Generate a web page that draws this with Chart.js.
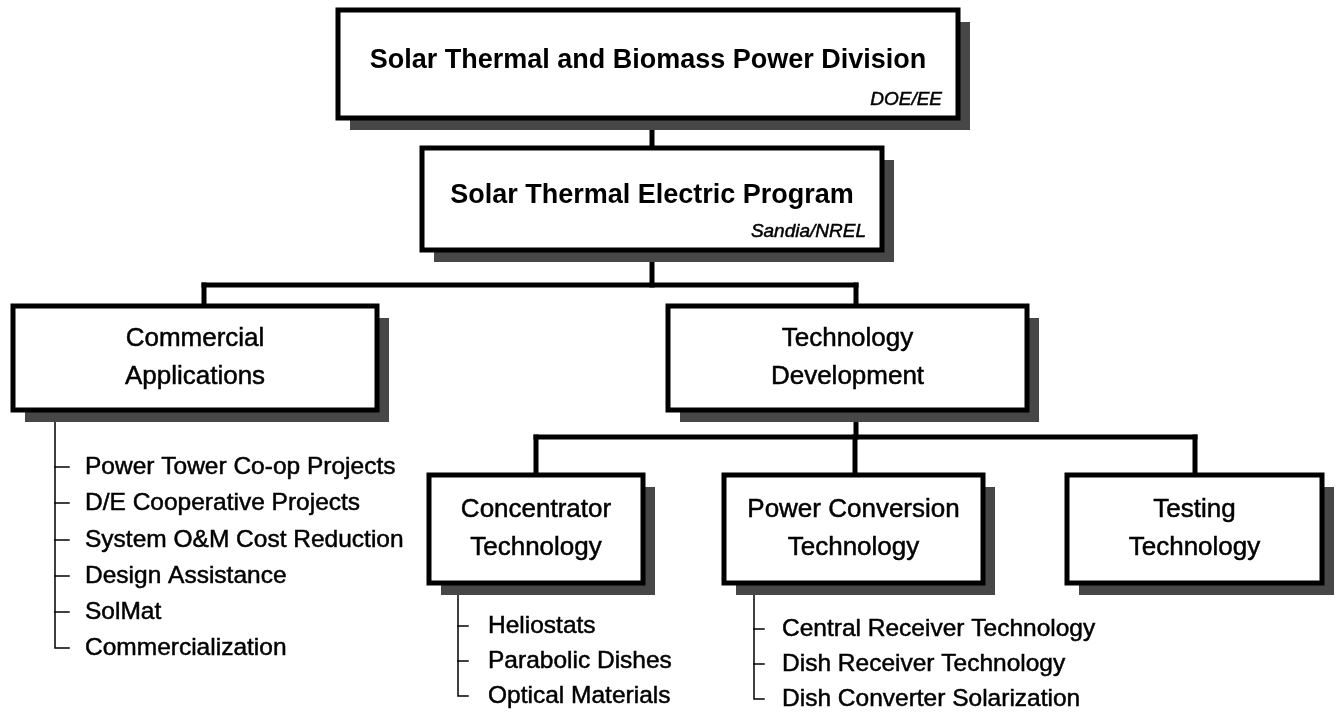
<!DOCTYPE html>
<html>
<head>
<meta charset="utf-8">
<script src="https://cdn.jsdelivr.net/npm/chart.js@4.4.1/dist/chart.umd.min.js"></script>
<style>
  html, body { margin: 0; padding: 0; background: #fff; }
  #wrap { width: 1342px; height: 712px; }
</style>
</head>
<body>
<div id="wrap"><canvas id="org-chart"></canvas></div>
<script>
// ---- chart content ----
var nodeTitles = [
  ['Solar Thermal and Biomass Power Division'],
  ['Solar Thermal Electric Program'],
  ['Commercial', 'Applications'],
  ['Technology', 'Development'],
  ['Concentrator', 'Technology'],
  ['Power Conversion', 'Technology'],
  ['Testing', 'Technology']
];
var nodeTags = ['DOE/EE', 'Sandia/NREL', '', '', '', '', ''];
var nodeParents = [-1, 0, 1, 1, 3, 3, 3];

var commercialItems = ['Power Tower Co-op Projects', 'D/E Cooperative Projects', 'System O&M Cost Reduction',
  'Design Assistance', 'SolMat', 'Commercialization'];
var concentratorItems = ['Heliostats', 'Parabolic Dishes', 'Optical Materials'];
var conversionItems = ['Central Receiver Technology', 'Dish Receiver Technology', 'Dish Converter Solarization'];

// ---- layout (axis units) ----
var boxLeft   = [338, 422,  13, 668, 429, 724, 1067];
var boxRight  = [958, 882, 377, 1027, 643, 983, 1322];
var boxTop    = [ 10, 148, 306, 306, 475, 475, 475];
var boxBottom = [118, 250, 410, 410, 583, 583, 583];
var linkX     = [652, 652, 204, 856, 536, 855, 1195];
var branchY   = { 1: 285, 3: 437 };

var lists = [
  { owner: 2, items: commercialItems, lineX: 55, textX: 85, tick: 14, rowY: [467, 503, 540, 576, 612, 648] },
  { owner: 4, items: concentratorItems, lineX: 458, textX: 488, tick: 10, rowY: [626, 661, 696] },
  { owner: 5, items: conversionItems, lineX: 754, textX: 782, tick: 10, rowY: [629, 664, 699] }
];

var SHADOW = 12;

// connector lines built from the tree
var datasets = [];
function seg(points, width) {
  datasets.push({ data: points, showLine: true, borderColor: '#000', borderWidth: width,
    pointRadius: 0, borderCapStyle: 'square', borderJoinStyle: 'miter', fill: false });
}
nodeParents.forEach(function(p, i) {
  if (p < 0) return;
  if (branchY[p] === undefined) {
    seg([{ x: linkX[p], y: boxBottom[p] }, { x: linkX[i], y: boxTop[i] }], 5);
  } else {
    seg([{ x: linkX[i], y: boxTop[i] }, { x: linkX[i], y: branchY[p] }], 5);
  }
});
Object.keys(branchY).forEach(function(k) {
  var p = +k;
  var xs = [];
  nodeParents.forEach(function(pp, i) { if (pp === p) xs.push(linkX[i]); });
  seg([{ x: linkX[p], y: boxBottom[p] }, { x: linkX[p], y: branchY[p] }], 5);
  seg([{ x: Math.min.apply(null, xs), y: branchY[p] }, { x: Math.max.apply(null, xs), y: branchY[p] }], 5);
});
lists.forEach(function(l) {
  var last = l.rowY[l.rowY.length - 1];
  seg([{ x: l.lineX, y: boxBottom[l.owner] + SHADOW }, { x: l.lineX, y: last }, { x: l.lineX + l.tick, y: last }], 1.5);
  l.rowY.slice(0, -1).forEach(function(y) {
    seg([{ x: l.lineX, y: y }, { x: l.lineX + l.tick, y: y }], 1.5);
  });
});

function heavyText(ctx, txt, x, y) {
  ctx.fillText(txt, x, y);
  ctx.strokeText(txt, x, y);
}

var boxPlugin = {
  id: 'boxes',
  afterDatasetsDraw: function(chart) {
    var ctx = chart.ctx, xs = chart.scales.x, ys = chart.scales.y;
    ctx.save();
    nodeTitles.forEach(function(lines, i) {
      var l = xs.getPixelForValue(boxLeft[i]), r = xs.getPixelForValue(boxRight[i]);
      var t = ys.getPixelForValue(boxTop[i]), b = ys.getPixelForValue(boxBottom[i]);
      ctx.fillStyle = '#474747';
      ctx.fillRect(l + SHADOW, t + SHADOW, r - l, b - t);
      ctx.fillStyle = '#fff';
      ctx.fillRect(l, t, r - l, b - t);
      ctx.strokeStyle = '#000';
      ctx.lineWidth = 5;
      ctx.strokeRect(l, t, r - l, b - t);

      var cx = (l + r) / 2;
      ctx.fillStyle = '#000';
      ctx.lineWidth = 0.5;
      ctx.textAlign = 'center';
      ctx.textBaseline = 'middle';
      if (nodeTags[i]) {
        ctx.font = 'bold 27px "Liberation Sans", Arial, sans-serif';
        ctx.fillText(lines[0], cx, t + (b - t) * 0.47);
        ctx.font = 'italic 19px "Liberation Sans", Arial, sans-serif';
        ctx.textAlign = 'right';
        heavyText(ctx, nodeTags[i], r - 16, b - 18);
      } else {
        ctx.font = '26px "Liberation Sans", Arial, sans-serif';
        var cy = (t + b) / 2;
        heavyText(ctx, lines[0], cx, cy - 19);
        heavyText(ctx, lines[1], cx, cy + 19);
      }
    });
    ctx.font = '24.5px "Liberation Sans", Arial, sans-serif';
    ctx.textAlign = 'left';
    ctx.textBaseline = 'middle';
    ctx.fillStyle = '#000';
    ctx.strokeStyle = '#000';
    ctx.lineWidth = 0.5;
    lists.forEach(function(list) {
      list.items.forEach(function(txt, k) {
        heavyText(ctx, txt, xs.getPixelForValue(list.textX), ys.getPixelForValue(list.rowY[k]));
      });
    });
    ctx.restore();
  }
};

new Chart('org-chart', {
  type: 'scatter',
  data: { datasets: datasets },
  options: {
    responsive: true,
    maintainAspectRatio: false,
    animation: false,
    layout: { padding: 0 },
    plugins: { legend: { display: false }, tooltip: { enabled: false } },
    scales: {
      x: { type: 'linear', min: 0, max: 1342, display: false },
      y: { type: 'linear', min: 0, max: 712, reverse: true, display: false }
    }
  },
  plugins: [boxPlugin]
});
</script>
</body>
</html>
